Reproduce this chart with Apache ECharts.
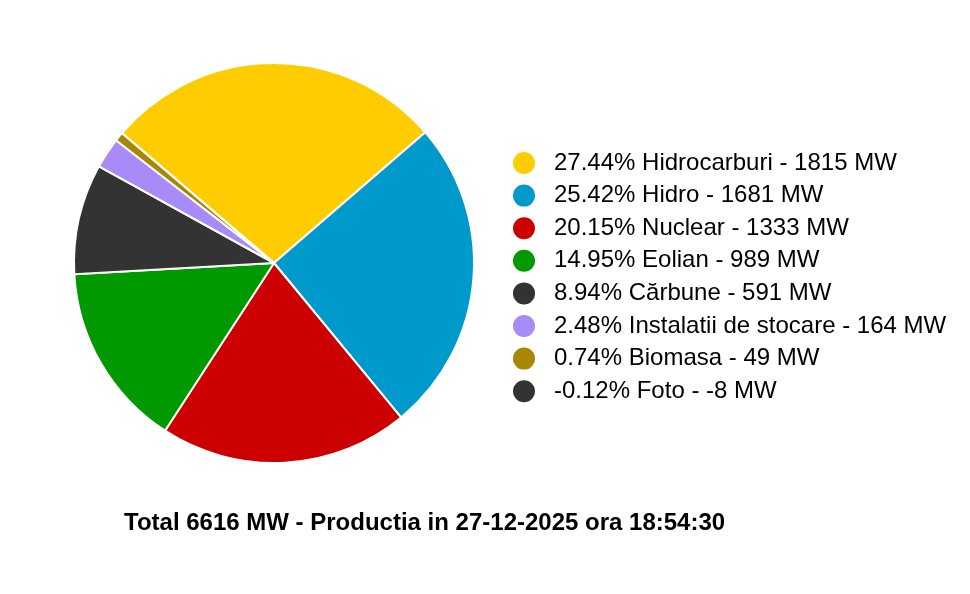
<!DOCTYPE html>
<html>
<head>
<meta charset="utf-8">
<script src="https://cdn.jsdelivr.net/npm/echarts@6/dist/echarts.min.js"></script>
<style>html,body{margin:0;padding:0;background:#fff}#c{width:970px;height:594px}</style>
</head>
<body>
<div id="c"></div>
<script>
const categories = ['Hidrocarburi','Hidro','Nuclear','Eolian','Cărbune','Instalatii de stocare','Biomasa','Foto'];
const valuesMW = [1815, 1681, 1333, 989, 591, 164, 49, -8];
const percents = ['27.44','25.42','20.15','14.95','8.94','2.48','0.74','-0.12'];
const colors = ['#FFCC00','#0099CC','#CC0000','#009900','#333333','#A98BF7','#A88704','#333333'];
const totalMW = 6616;
const titleText = 'Total ' + totalMW + ' MW - Productia in 27-12-2025 ora 18:54:30';

const chart = echarts.init(document.getElementById('c'));
const data = categories.map((n, i) => ({
  name: n,
  value: Math.max(0, valuesMW[i]),
  itemStyle: { color: colors[i] }
}));
chart.setOption({
  animation: false,
  title: {
    text: titleText,
    left: 124, top: 511, padding: 0,
    textStyle: { fontFamily: 'Liberation Sans', fontSize: 24, lineHeight: 24, fontWeight: 'bold', color: '#000' }
  },
  legend: {
    orient: 'vertical',
    left: 511, top: 150, padding: 0,
    icon: 'circle',
    itemWidth: 24, itemHeight: 24,
    itemGap: 6.6,
    data: categories,
    formatter: function (name) {
      const i = categories.indexOf(name);
      return percents[i] + '% ' + name + ' - ' + valuesMW[i] + ' MW';
    },
    textStyle: { fontFamily: 'Liberation Sans', fontSize: 24, lineHeight: 20, color: '#000', padding: [0, 0, 0, 13] },
    selectedMode: false
  },
  series: [{
    type: 'pie',
    center: [274, 263],
    radius: 200,
    startAngle: 139.5,
    clockwise: true,
    label: { show: false },
    labelLine: { show: false },
    emphasis: { disabled: true },
    itemStyle: { borderColor: '#fff', borderWidth: 2 },
    data: data
  }]
});
</script>
</body>
</html>
